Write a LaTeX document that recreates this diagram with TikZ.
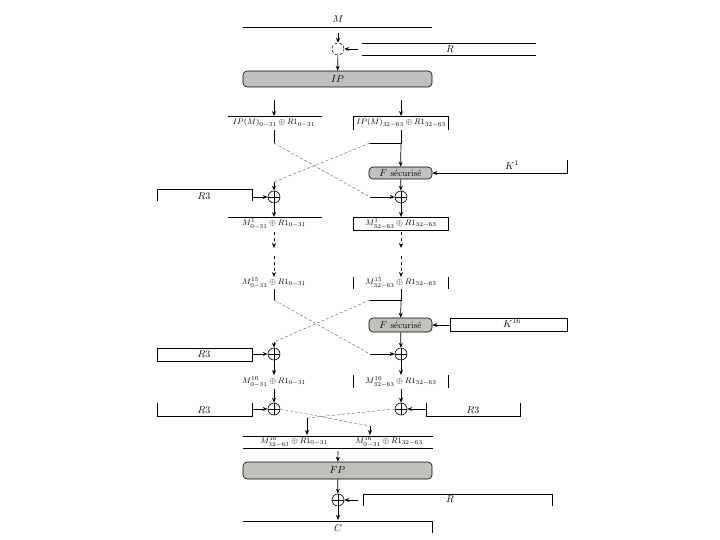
\documentclass[tikz,border=0pt]{standalone}
\usetikzlibrary{arrows.meta,calc}
\definecolor{boxgray}{RGB}{192,192,188}
\tikzset{
  ln/.style={line width=0.7pt},
  arr/.style={line width=0.7pt,-{Stealth[length=5pt,width=4pt]}},
  cross/.style={line width=0.4pt,gray!70!black,densely dashed},
  xor/.style={circle,draw,line width=0.6pt,minimum size=12pt,inner sep=0pt,
    path picture={\draw[line width=0.6pt] (path picture bounding box.north)--(path picture bounding box.south)
      (path picture bounding box.west)--(path picture bounding box.east);}},
  xorempty/.style={circle,draw,densely dashed,line width=0.5pt,minimum size=12pt,inner sep=0pt},
  gbox/.style={draw,line width=0.6pt,fill=boxgray,rounded corners=4pt,inner sep=0pt},
  lab/.style={inner sep=0pt,font=\footnotesize},
  big/.style={inner sep=0pt}
}
\begin{document}
\begin{tikzpicture}[x=1pt,y=-1pt]
\useasboundingbox (0,0) rectangle (720,540);
% ---------- top
\draw[ln] (243,27) -- (432,27);
\node[big] (M) at (338,19) {$M$};
\coordinate (mo) at (338,33);
\node[xorempty] (x0) at (338,49) {};
\draw[arr] (mo) -- (x0);
\draw[ln] (362,43) -- (536,43) (362,55) -- (536,55);
\node[big] (R) at (450,49) {$R$};
\coordinate (ro) at (358,49);
\draw[arr] (ro) -- (x0);
\node[gbox,minimum width=189pt,minimum height=16pt] (IP) at (337.5,79) {$IP$};
\draw[arr] (x0) -- (IP);
% ---------- row 1 labels
\coordinate (a1) at (274,100);
\coordinate (b1) at (401,100);
\node[lab] (L1) at (274,123) {$IP(M)_{0-31}\oplus R1_{0-31}$};
\node[lab] (R1) at (401,123) {$IP(M)_{32-63}\oplus R1_{32-63}$};
\coordinate (L1t) at (274,116);
\coordinate (R1t) at (401,116);
\draw[arr] (a1) -- (L1t);
\draw[arr] (b1) -- (R1t);
\draw[ln] (228,116) -- (322,116);
\draw[ln] (353,130) -- (353,116) -- (448,116) -- (448,130);
% ---------- round 1
\coordinate (L1b) at (274,130);
\coordinate (R1b) at (401,130);
\coordinate (cl1) at (274,143);
\coordinate (cr1) at (401,143);
\coordinate (dl1) at (370,143);
\coordinate (el1) at (274,182);
\coordinate (dr1) at (370,197);
\node[gbox,minimum width=63pt,minimum height=12pt] (F1) at (400.5,173) {$F$ \small sécurisé};
\node[xor] (xl1) at (274,197) {};
\node[xor] (xr1) at (401,197) {};
\draw[ln] (L1b) -- (cl1);
\draw[cross] (cl1) -- (dr1);
\draw[arr] (dr1) -- (xr1);
\draw[ln] (R1b) -- (cr1) -- (dl1);
\draw[arr] (cr1) -- (F1);
\draw[cross] (dl1) -- (el1);
\draw[arr] (el1) -- (xl1);
\draw[arr] (F1) -- (xr1);
\draw[ln] (450,173) -- (567,173) -- (567,160);
\node[big] (K1) at (512,165) {$K^1$};
\coordinate (k1o) at (450,173);
\draw[arr] (k1o) -- (F1);
\draw[ln] (157,201) -- (157,189) -- (252,189) -- (252,201);
\node[big] (R3a) at (204,196) {$R3$};
\coordinate (r3ao) at (252,197);
\draw[arr] (r3ao) -- (xl1);
% ---------- labels M1
\node[lab] (L2) at (274,224) {$M^1_{0-31}\oplus R1_{0-31}$};
\node[lab] (R2) at (401,224) {$M^1_{32-63}\oplus R1_{32-63}$};
\coordinate (L2t) at (274,217);
\coordinate (R2t) at (401,217);
\draw[arr] (xl1) -- (L2t);
\draw[arr] (xr1) -- (R2t);
\draw[ln] (228,217) -- (322,217);
\draw[ln] (353,217) rectangle (448,230);
% dashed continuation
\coordinate (L2b) at (274,232);
\coordinate (R2b) at (401,232);
\coordinate (L2m) at (274,248);
\coordinate (R2m) at (401,248);
\coordinate (L2n) at (274,256);
\coordinate (R2n) at (401,256);
\coordinate (L3t) at (274,277);
\coordinate (R3t) at (401,277);
\draw[arr,dashed] (L2b) -- (L2m);
\draw[arr,dashed] (R2b) -- (R2m);
\draw[arr,dashed] (L2n) -- (L3t);
\draw[arr,dashed] (R2n) -- (R3t);
% ---------- labels M15
\node[lab] (L3) at (274,283) {$M^{15}_{0-31}\oplus R1_{0-31}$};
\node[lab] (R3) at (401,283) {$M^{15}_{32-63}\oplus R1_{32-63}$};
\draw[ln] (353,277) -- (353,289) (448,277) -- (448,289);
% ---------- round 16
\coordinate (L3b) at (274,289);
\coordinate (R3b) at (401,289);
\coordinate (cl2) at (274,300);
\coordinate (cr2) at (401,300);
\coordinate (dl2) at (370,300);
\coordinate (el2) at (274,342);
\coordinate (dr2) at (370,354);
\node[gbox,minimum width=63pt,minimum height=14pt] (F2) at (400.5,325) {$F$ \small sécurisé};
\node[xor] (xl2) at (274,354) {};
\node[xor] (xr2) at (401,354) {};
\draw[ln] (L3b) -- (cl2);
\draw[cross] (cl2) -- (dr2);
\draw[arr] (dr2) -- (xr2);
\draw[ln] (R3b) -- (cr2) -- (dl2);
\draw[arr] (cr2) -- (F2);
\draw[cross] (dl2) -- (el2);
\draw[arr] (el2) -- (xl2);
\draw[arr] (F2) -- (xr2);
\draw[ln] (450,318) rectangle (567,331);
\node[big] (K16) at (512,323) {$K^{16}$};
\coordinate (k16o) at (450,325);
\draw[arr] (k16o) -- (F2);
\draw[ln] (157,348) rectangle (252,361);
\node[big] (R3b) at (204,354) {$R3$};
\coordinate (r3bo) at (252,354);
\draw[arr] (r3bo) -- (xl2);
% ---------- labels M16
\node[lab] (L4) at (274,382) {$M^{16}_{0-31}\oplus R1_{0-31}$};
\node[lab] (R4) at (401,382) {$M^{16}_{32-63}\oplus R1_{32-63}$};
\coordinate (L4t) at (274,375);
\coordinate (R4t) at (401,375);
\coordinate (L4b) at (274,389);
\coordinate (R4b) at (401,389);
\draw[arr] (xl2) -- (L4t);
\draw[arr] (xr2) -- (R4t);
\draw[ln] (353,375) -- (353,388) (448,375) -- (448,388);
\node[xor] (xl3) at (274,409) {};
\node[xor] (xr3) at (401,409) {};
\draw[arr] (L4b) -- (xl3);
\draw[arr] (R4b) -- (xr3);
\draw[ln] (157,403) -- (157,416) -- (252,416) -- (252,403);
\node[big] (R3c) at (204,410) {$R3$};
\coordinate (r3co) at (252,409);
\draw[arr] (r3co) -- (xl3);
\draw[ln] (426,403) -- (426,416) -- (520,416) -- (520,403);
\node[big] (R3d) at (473,410) {$R3$};
\coordinate (r3do) at (426,409);
\draw[arr] (r3do) -- (xr3);
% final swap
\coordinate (sl) at (370,426);
\coordinate (sr) at (307,418);
\coordinate (slt) at (370,435);
\coordinate (srt) at (307,435);
\draw[cross] (xl3.east) -- (sl);
\draw[arr] (sl) -- (slt);
\draw[cross] (xr3.west) -- (sr);
\draw[arr] (sr) -- (srt);
\draw[ln] (243,436) -- (433,436) (243,448) -- (433,448);
\node[lab] (O1) at (294,442) {$M^{16}_{32-63}\oplus R1_{0-31}$};
\node[lab] (O2) at (389,442) {$M^{16}_{0-31}\oplus R1_{32-63}$};
% ---------- bottom
\coordinate (fo) at (338,451);
\node[gbox,minimum width=189pt,minimum height=17pt] (FP) at (337.5,470.5) {$FP$};
\draw[arr] (fo) -- (FP);
\node[xor] (x4) at (338,500) {};
\draw[arr] (FP) -- (x4);
\draw[ln] (363,506) -- (363,494) -- (552,494) -- (552,506);
\node[big] (Rb) at (450,499) {$R$};
\coordinate (rbo) at (358,500);
\draw[arr] (rbo) -- (x4);
\coordinate (Ct) at (338,520);
\draw[arr] (x4) -- (Ct);
\draw[ln] (243,521) -- (432,521) -- (432,533);
\node[big] (C) at (338,528) {$C$};
\end{tikzpicture}
\end{document}
